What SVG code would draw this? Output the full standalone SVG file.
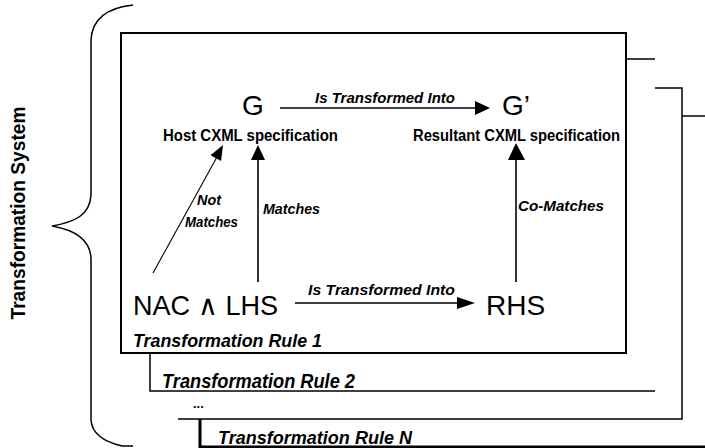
<svg xmlns="http://www.w3.org/2000/svg" width="705" height="448" viewBox="0 0 705 448">
<style>
.big{font-family:"Liberation Sans",Arial,sans-serif;font-size:28px;fill:#000}
.sub{font-family:"Liberation Sans",Arial,sans-serif;font-size:16px;font-weight:bold;fill:#000}
.lab{font-family:"Liberation Sans",Arial,sans-serif;font-size:14px;font-weight:bold;font-style:italic;fill:#000}
.rule{font-family:"Liberation Sans",Arial,sans-serif;font-weight:bold;font-style:italic;fill:#000}
.ln{fill:none;stroke:#000;stroke-width:1.5}
.conn{fill:none;stroke:#000;stroke-width:1.6}
.head{fill:#000;stroke:none}
</style>
<rect width="705" height="448" fill="#fff"/>
<g id="brace">
<path class="ln" d="M133,5 C105,8 92,20 91,40 L91,195 C90,215 75,222 52,226 C75,230 90,240 91,258 L91,420 C92,435 105,442 122,446 L133,446"/>
<text class="rule" style="font-style:normal" font-size="21" transform="translate(25,213) rotate(-90)" text-anchor="middle" textLength="213" lengthAdjust="spacingAndGlyphs">Transformation System</text>
</g>
<g id="ruleN">
<path class="ln" d="M682,116 H705"/>
<path class="ln" style="stroke-width:3" d="M200,419 V447 H705"/>
<text class="rule" x="218" y="444" font-size="19" textLength="194" lengthAdjust="spacingAndGlyphs">Transformation Rule N</text>
</g>
<g id="ruleDots">
<path class="ln" d="M655,88 H682 V419 H178"/>
<text class="rule" style="font-style:normal" x="193" y="408" font-size="13">...</text>
</g>
<g id="rule2">
<path class="ln" d="M626,59 H655 M150,353 V391 H655"/>
<text class="rule" x="162" y="388" font-size="20" textLength="193" lengthAdjust="spacingAndGlyphs">Transformation Rule 2</text>
</g>
<g id="rule1">
<rect x="121" y="33" width="505" height="320" fill="#fff" stroke="#000" stroke-width="2"/>
<text class="rule" x="133" y="347" font-size="18" textLength="189" lengthAdjust="spacingAndGlyphs">Transformation Rule 1</text>
</g>
<g id="G">
<text class="big" x="253" y="115" text-anchor="middle">G</text>
<text class="sub" x="163" y="141" textLength="175" lengthAdjust="spacingAndGlyphs">Host CXML specification</text>
</g>
<g id="Gprime">
<text class="big" x="502" y="115">G’</text>
<text class="sub" x="413" y="141" textLength="207" lengthAdjust="spacingAndGlyphs">Resultant CXML specification</text>
</g>
<g id="NACLHS">
<text class="big" x="133" y="315" textLength="145" lengthAdjust="spacingAndGlyphs">NAC ∧ LHS</text>
</g>
<g id="RHS">
<text class="big" x="486" y="315">RHS</text>
</g>
<g id="connectors">
<line class="conn" x1="280" y1="108" x2="477" y2="108"/>
<polygon class="head" points="475,101 490,108 475,115"/>
<text class="lab" x="315" y="103" textLength="140" lengthAdjust="spacingAndGlyphs">Is Transformed Into</text>
<line class="conn" x1="295" y1="303" x2="460" y2="303"/>
<polygon class="head" points="457,297 475,303 457,309"/>
<text class="lab" x="308" y="295" textLength="147" lengthAdjust="spacingAndGlyphs">Is Transformed Into</text>
<line class="conn" x1="258" y1="282" x2="258" y2="158"/>
<polygon class="head" points="251,160 258,145 265,160"/>
<text class="lab" x="263" y="214" textLength="57" lengthAdjust="spacingAndGlyphs">Matches</text>
<line class="conn" style="stroke-width:1.1" x1="153" y1="273" x2="217" y2="157"/>
<polygon class="head" points="221.1,161.1 223,145 210.5,155.3"/>
<text class="lab" x="197" y="205" textLength="24" lengthAdjust="spacingAndGlyphs">Not</text>
<text class="lab" x="185" y="227" textLength="53" lengthAdjust="spacingAndGlyphs">Matches</text>
<line class="conn" x1="516" y1="282" x2="516" y2="158"/>
<polygon class="head" points="508,160 516,143 525,160"/>
<text class="lab" x="518" y="211" textLength="86" lengthAdjust="spacingAndGlyphs">Co-Matches</text>
</g>
</svg>
